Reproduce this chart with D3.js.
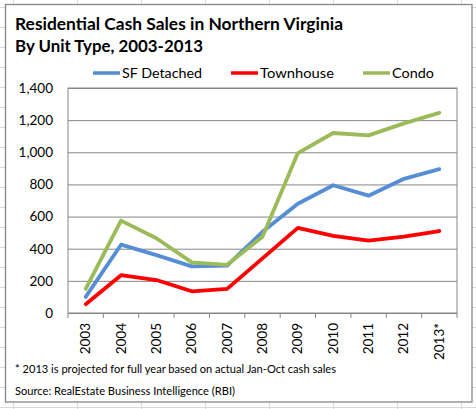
<!DOCTYPE html>
<html>
<head>
<meta charset="utf-8">
<script src="https://cdn.jsdelivr.net/npm/d3@7"></script>
<style>
  html, body { margin: 0; padding: 0; background: #fff; }
  svg { display: block; }
  text { font-family: Lato, "Open Sans", sans-serif; fill: #000; }
</style>
</head>
<body>
<svg id="chart" width="476" height="409"></svg>
<script>
const categories = ["2003","2004","2005","2006","2007","2008","2009","2010","2011","2012","2013*"];
const sfDetached = [100, 425, 360, 290, 295, 505, 680, 795, 730, 835, 895];
const townhouse  = [55, 235, 205, 135, 150, 340, 530, 480, 450, 475, 510];
const condo      = [150, 575, 465, 315, 300, 475, 995, 1120, 1105, 1180, 1245];
const yTicks = [0, 200, 400, 600, 800, 1000, 1200, 1400];
const seriesNames = ["SF Detached", "Townhouse", "Condo"];
const seriesColors = ["#558ED5", "#FF0000", "#9BBB59"];
const titleLines = ["Residential Cash Sales in Northern Virginia", "By Unit Type, 2003-2013"];
const footnotes = ["* 2013 is projected for full year based on actual Jan-Oct cash sales",
                   "Source: RealEstate Business Intelligence (RBI)"];

(function () {
const series = [sfDetached, townhouse, condo].map((v, i) => ({ name: seriesNames[i], color: seriesColors[i], values: v }));

const svg = d3.select("#chart");
const W = 476, H = 409;

// Excel sheet grid background
const bg = svg.append("g");
d3.range(13, W, 64).forEach(xx => bg.append("line").attr("x1", xx + 0.5).attr("x2", xx + 0.5).attr("y1", 0).attr("y2", H).attr("stroke", "#d9d9d9"));
d3.range(7, H, 20).forEach(yy => bg.append("line").attr("x1", 0).attr("x2", W).attr("y1", yy + 0.5).attr("y2", yy + 0.5).attr("stroke", "#d9d9d9"));

// chart area
svg.append("rect").attr("x", 5.5).attr("y", 4.5).attr("width", 466.5).attr("height", 397.5)
  .attr("fill", "#fff").attr("stroke", "#868686").attr("stroke-width", 1.3);

// title
const titleLens = [328, 188];
titleLines.forEach((t, i) => {
  svg.append("text").attr("x", 15).attr("y", 29.5 + i * 22.3)
    .attr("font-size", 17).attr("font-weight", "bold")
    .attr("textLength", titleLens[i]).attr("lengthAdjust", "spacingAndGlyphs")
    .text(t);
});

// legend
const legendX = [93, 231, 363];
const legendLens = [80, 74, 42];
series.forEach((s, i) => {
  const g = svg.append("g");
  g.append("line").attr("x1", legendX[i]).attr("x2", legendX[i] + 27).attr("y1", 73).attr("y2", 73)
    .attr("stroke", s.color).attr("stroke-width", 3.5);
  g.append("text").attr("x", legendX[i] + 29).attr("y", 77.5).attr("font-size", 14)
    .attr("textLength", legendLens[i]).attr("lengthAdjust", "spacingAndGlyphs").text(s.name);
});

// scales
const pLeft = 68, pRight = 457, pTop = 88, pBottom = 313;
const x = d3.scaleBand().domain(categories).range([pLeft, pRight]).padding(0);
const y = d3.scaleLinear().domain([0, 1400]).range([pBottom, pTop]);
const cx = c => x(c) + x.bandwidth() / 2;

// gridlines + y labels
const yAxis = d3.axisLeft(y).tickValues(yTicks).tickSize(-(pRight - pLeft)).tickPadding(15)
  .tickFormat(d3.format(","));
const gy = svg.append("g").attr("transform", `translate(${pLeft},0)`).call(yAxis);
gy.select(".domain").remove();
gy.selectAll(".tick line").attr("stroke", "#868686").attr("stroke-width", 1);
gy.selectAll(".tick text").attr("font-size", 13.5).attr("font-family", "Lato, sans-serif").attr("fill", "#000");

// plot border
svg.append("rect").attr("x", pLeft).attr("y", pTop).attr("width", pRight - pLeft).attr("height", pBottom - pTop)
  .attr("fill", "none").attr("stroke", "#868686").attr("stroke-width", 1);

// x axis ticks at boundaries
const bounds = categories.map(c => x(c)).concat([pRight]);
svg.append("g").selectAll("line").data(bounds).join("line")
  .attr("x1", d => d).attr("x2", d => d).attr("y1", pBottom).attr("y2", pBottom + 5)
  .attr("stroke", "#868686").attr("stroke-width", 1);

// x labels rotated
svg.append("g").selectAll("text").data(categories).join("text")
  .attr("transform", c => `translate(${cx(c) + 4.5},${pBottom + 10}) rotate(-90)`)
  .attr("text-anchor", "end").attr("font-size", 13.5).text(c => c);

// lines
const line = d3.line().x((d, i) => cx(categories[i])).y(d => y(d));
svg.append("g").selectAll("path").data(series).join("path")
  .attr("d", s => line(s.values)).attr("fill", "none")
  .attr("stroke", s => s.color).attr("stroke-width", 3.8)
  .attr("stroke-linejoin", "round").attr("stroke-linecap", "round");

// footnotes
const footLens = [321, 220];
footnotes.forEach((t, i) => {
  svg.append("text").attr("x", 15).attr("y", 373 + i * 22).attr("font-size", 12)
    .attr("textLength", footLens[i]).attr("lengthAdjust", "spacingAndGlyphs").text(t);
});
})();
</script>
</body>
</html>
